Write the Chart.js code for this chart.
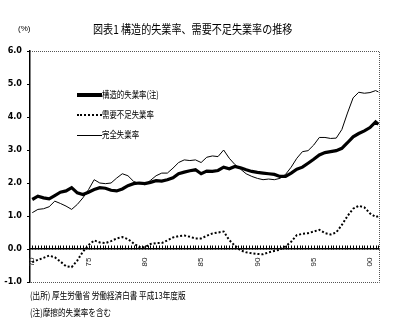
<!DOCTYPE html>
<html><head><meta charset="utf-8">
<script src="https://cdn.jsdelivr.net/npm/chart.js@4/dist/chart.umd.min.js"></script>
<style>
html,body{margin:0;padding:0;background:#fff;}
#wrap{position:relative;width:404px;height:329px;overflow:hidden;background:#fff;}
canvas{position:absolute;left:0;top:0;}
.t{position:absolute;white-space:nowrap;font-family:"Noto Sans CJK JP","Noto Sans",sans-serif;color:#000;transform-origin:0 50%;line-height:1;}
.sw{position:absolute;left:77px;width:25px;}
</style></head>
<body><div id="wrap">
<canvas id="c" width="404" height="329"></canvas>
<div class="t" style="left:93px;top:23px;font-size:12px;transform:scaleX(0.84);">図表1 構造的失業率、需要不足失業率の推移</div>
<div class="t" style="left:18px;top:25px;font-size:8px;font-family:'Liberation Sans',sans-serif;">(%)</div>
<div class="sw" style="top:93px;border-top:4px solid #000;"></div>
<div class="t" style="left:102px;top:90px;font-size:9.5px;transform:scaleX(0.78);">構造的失業率(注)</div>
<div class="sw" style="top:114px;border-top:2px dotted #000;"></div>
<div class="t" style="left:102px;top:110px;font-size:9.5px;transform:scaleX(0.78);">需要不足失業率</div>
<div class="sw" style="top:134.5px;border-top:1px solid #000;"></div>
<div class="t" style="left:102px;top:130px;font-size:9.5px;transform:scaleX(0.78);">完全失業率</div>
<div class="t" style="left:30px;top:291px;font-size:9.5px;transform:scaleX(0.8);">(出所) 厚生労働省 労働経済白書 平成13年度版</div>
<div class="t" style="left:30px;top:308px;font-size:9.5px;transform:scaleX(0.8);">(注)摩擦的失業率を含む</div>
</div>
<script>
const years = [1970,1970.5,1971,1971.5,1972,1972.5,1973,1973.5,1974,1974.5,1975,1975.5,1976,1976.5,1977,1977.5,1978,1978.5,1979,1979.5,1980,1980.5,1981,1981.5,1982,1982.5,1983,1983.5,1984,1984.5,1985,1985.5,1986,1986.5,1987,1987.5,1988,1988.5,1989,1989.5,1990,1990.5,1991,1991.5,1992,1992.5,1993,1993.5,1994,1994.5,1995,1995.5,1996,1996.5,1997,1997.5,1998,1998.5,1999,1999.5,2000,2000.5,2000.75];
const structural = [1.50,1.60,1.55,1.52,1.62,1.72,1.76,1.86,1.70,1.65,1.72,1.80,1.86,1.84,1.78,1.76,1.82,1.92,1.98,2.00,1.98,2.02,2.07,2.06,2.10,2.16,2.28,2.33,2.37,2.40,2.28,2.36,2.35,2.38,2.48,2.43,2.50,2.46,2.40,2.35,2.32,2.30,2.28,2.26,2.20,2.20,2.30,2.42,2.48,2.60,2.72,2.85,2.92,2.95,2.98,3.05,3.22,3.40,3.50,3.58,3.68,3.85,3.78];
const deficient = [-0.40,-0.33,-0.27,-0.20,-0.25,-0.38,-0.52,-0.55,-0.35,-0.08,0.12,0.26,0.20,0.18,0.24,0.32,0.36,0.30,0.17,0.06,0.05,0.15,0.18,0.18,0.26,0.35,0.39,0.41,0.37,0.32,0.32,0.40,0.47,0.50,0.53,0.27,0.10,-0.04,-0.10,-0.13,-0.15,-0.16,-0.10,-0.06,-0.02,0.08,0.22,0.42,0.46,0.48,0.53,0.58,0.48,0.44,0.50,0.73,1.00,1.22,1.31,1.26,1.08,0.97,0.99];
const complete = [1.10,1.20,1.22,1.28,1.45,1.38,1.30,1.20,1.35,1.55,1.80,2.10,2.00,1.98,2.00,2.15,2.28,2.22,2.05,1.98,1.95,2.08,2.22,2.30,2.30,2.45,2.62,2.70,2.68,2.70,2.62,2.78,2.82,2.80,3.00,2.75,2.56,2.42,2.28,2.20,2.14,2.10,2.12,2.10,2.14,2.26,2.48,2.75,2.95,2.98,3.15,3.38,3.38,3.35,3.36,3.62,4.12,4.58,4.75,4.72,4.74,4.80,4.76];
const seriesNames = ["構造的失業率(注)","需要不足失業率","完全失業率"];
const xTickYears = [1970,1975,1980,1985,1990,1995,2000];
const xTickLabels = ["70","75","80","85","90","95","00"];
const yTickValues = [-1,0,1,2,3,4,5,6];

const pts = arr => years.map((y,i)=>({x:y,y:arr[i]}));

const framePlugin = {
  id:'frame',
  afterDraw(chart){
    const {ctx, chartArea:a, scales} = chart;
    ctx.save();
    ctx.strokeStyle='#555'; ctx.lineWidth=1; ctx.setLineDash([1,1]);
    ctx.beginPath();
    ctx.moveTo(a.left, a.top+0.5); ctx.lineTo(a.right+0.5, a.top+0.5);
    ctx.lineTo(a.right+0.5, a.bottom+0.5); ctx.lineTo(a.left, a.bottom+0.5);
    ctx.stroke();
    ctx.setLineDash([]);
    const y0 = Math.round(scales.y.getPixelForValue(0))+0.5;
    // quarterly minor ticks above the zero line
    ctx.strokeStyle='#000'; ctx.lineWidth=1;
    ctx.beginPath();
    for(let q=1970; q<=2000.76; q+=0.25){
      const px = Math.round(scales.x.getPixelForValue(q))+0.5;
      ctx.moveTo(px,y0); ctx.lineTo(px,y0-4);
    }
    ctx.stroke();
    // rotated year labels under the zero line
    ctx.fillStyle='#222';
    ctx.font="8px 'Liberation Sans', sans-serif";
    ctx.textAlign='right'; ctx.textBaseline='middle';
    xTickYears.forEach((yr,i)=>{
      const px = scales.x.getPixelForValue(yr);
      ctx.save();
      ctx.translate(px, y0+8);
      ctx.rotate(-Math.PI/2);
      ctx.fillText(xTickLabels[i],0,0);
      ctx.restore();
    });
    ctx.restore();
  }
};

new Chart(document.getElementById('c'),{
  type:'line',
  data:{datasets:[
    {label:seriesNames[0],data:pts(structural),borderColor:'#000',borderWidth:3.2,pointRadius:0,tension:0},
    {label:seriesNames[1],data:pts(deficient),borderColor:'#000',borderWidth:2,borderDash:[2,2],pointRadius:0,tension:0},
    {label:seriesNames[2],data:pts(complete),borderColor:'#000',borderWidth:1,pointRadius:0,tension:0}
  ]},
  options:{
    responsive:false,animation:false,devicePixelRatio:1,
    layout:{padding:{left:0,right:25,top:51,bottom:47}},
    plugins:{legend:{display:false},title:{display:false},tooltip:{enabled:false}},
    scales:{
      x:{type:'linear',position:{y:0},min:1969.8,max:2000.8,
        afterBuildTicks:s=>{s.ticks=xTickYears.map(v=>({value:v}));},
        grid:{display:false,drawTicks:false},
        border:{display:true,color:'#000',width:1.5},
        ticks:{display:false}
      },
      y:{type:'linear',min:-1,max:6,
        afterBuildTicks:s=>{s.ticks=yTickValues.map(v=>({value:v}));},
        afterFit:s=>{s.width=30;},
        grid:{drawOnChartArea:false,drawTicks:true,tickLength:3,color:'#000'},
        border:{display:true,color:'#000',width:1.5},
        ticks:{padding:5,color:'#000',font:{size:9,weight:'bold',family:"'Liberation Sans Narrow','DejaVu Sans Condensed','Liberation Sans',sans-serif"},
          callback:v=>Number(v).toFixed(1)}
      }
    }
  },
  plugins:[framePlugin]
});
</script>
</body></html>
